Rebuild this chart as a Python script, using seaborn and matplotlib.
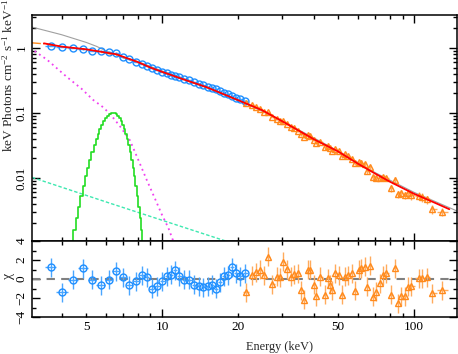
"""
Unfolded spectrum with model components and chi residuals.
"""

import numpy as np
import matplotlib
matplotlib.use("Agg")
import matplotlib.pyplot as plt
from matplotlib.ticker import FixedLocator, FuncFormatter, LogLocator, MultipleLocator, NullFormatter
import seaborn as sns

# ---- data ----
blue_energy = [3.62, 4.02, 4.45, 4.87, 5.29, 5.71, 6.16, 6.57, 7.00, 7.42, 7.88, 8.31,
               8.70, 9.10, 9.55, 10.03, 10.44, 10.86, 11.26, 11.68, 12.26, 12.83, 13.43,
               14.02, 14.58, 15.18, 15.75, 16.38, 16.99, 17.67, 18.33, 18.96, 19.61, 20.39, 21.35]
blue_flux = [1.085, 1.047, 1.01, 0.965, 0.91, 0.905, 0.877, 0.85, 0.72, 0.67, 0.616, 0.57,
             0.535, 0.49, 0.46, 0.43, 0.41, 0.39, 0.375, 0.358, 0.337, 0.318, 0.298,
             0.282, 0.268, 0.254, 0.243, 0.23, 0.217, 0.205, 0.193, 0.183, 0.172, 0.163, 0.155]
blue_chi = [1.26, -1.40, -0.07, 1.13, -0.07, -0.66, -0.07, 0.84, 0.18, -0.66, -0.24, 0.39,
            0.18, -1.02, -0.77, -0.24, 0.28, 0.45, 0.92, 0.28, -0.07, -0.07, -0.60,
            -0.77, -0.87, -0.77, -0.60, -1.02, -0.35, 0.28, 0.39, 1.26, 0.63, 0.28, 0.63]
blue_rel_err = 0.02

orange_energy = [21.6, 22.8, 23.6, 24.5, 25.5, 26.3, 27.4, 28.7, 29.4, 30.2, 31.4, 32.6,
                 33.4, 34.7, 35.7, 36.6, 38.0, 38.6, 40.1, 40.9, 42.5, 44.2, 45.6, 46.4,
                 47.4, 48.7, 50.2, 51.9, 53.1, 54.7, 56.8, 58.2, 60.3, 61.8, 63.7, 65.3,
                 66.7, 68.8, 70.9, 73.5, 75.5, 77.6, 81.3, 83.8, 86.4, 88.6, 91.9, 94.7,
                 97.0, 104.4, 107.6, 112.9, 117.9, 129.5]
orange_flux = [0.1435, 0.134, 0.1245, 0.115, 0.105, 0.1025, 0.0874, 0.0809, 0.0764, 0.075,
               0.0675, 0.0615, 0.059, 0.0532, 0.0467, 0.0428, 0.0452, 0.0436, 0.0382,
               0.0349, 0.0353, 0.0302, 0.0306, 0.0284, 0.0264, 0.0277, 0.0258, 0.0214,
               0.0231, 0.0216, 0.0198, 0.0167, 0.0173, 0.0171, 0.0162, 0.01265, 0.01466,
               0.01024, 0.01004, 0.0100, 0.01024, 0.00989, 0.0070, 0.00922, 0.0056,
               0.00586, 0.00546, 0.00578, 0.00545, 0.00532, 0.00503, 0.00466, 0.00332, 0.0030]
orange_chi = [-1.40, 0.42, 0.71, 0.95, 0.39, 2.35, -0.53, 0.25, 0.18, 1.82, 1.02, 0.25,
              0.50, 0.60, -1.16, -2.21, 0.95, 0.98, -0.63, -1.79, 0.25, -1.68, 0.07, -0.60,
              -1.16, 0.60, 0.42, -1.68, 0.25, 0.42, 0.60, -1.26, 0.95, 1.12, 1.30, -0.81,
              1.37, -1.86, -1.33, -0.46, 0.42, 0.60, -1.68, 1.12, -2.56, -1.79, -1.79,
              -0.81, -0.74, 0.07, 0.07, 0.18, -1.51, -1.16]
orange_rel_err = [0.025] * 10 + [0.04] * 13 + [0.06] * 10 + [0.09] * 9 + [0.12] * 6 + [0.15] * 6

# model curves
red_energy = [3.4, 4.0, 5.0, 6.0, 6.6, 7.1, 8.0, 9.0, 10.0, 12.0, 15.0, 20.0, 25.0, 30.0,
              40.0, 50.0, 60.0, 70.0, 80.0, 100.0, 120.0, 138.0]
red_flux = [1.18, 1.05, 0.955, 0.85, 0.80, 0.72, 0.61, 0.50, 0.43, 0.335, 0.25, 0.158,
            0.110, 0.0745, 0.0395, 0.0255, 0.0165, 0.0117, 0.0088, 0.0057, 0.0042, 0.0033]

gray_energy = [3.05, 4.0, 5.0, 5.5, 6.0, 7.0, 8.0, 10.0, 15.0, 20.0, 30.0, 50.0, 70.0, 100.0, 148.0]
gray_flux = [2.1, 1.6, 1.22, 1.06, 0.90, 0.73, 0.62, 0.445, 0.255, 0.16, 0.0752, 0.026,
             0.0121, 0.006, 0.0031]

orange_model_energy = [3.05, 3.4, 4.0, 5.0, 6.0, 6.6, 7.1, 8.0, 10.0, 15.0, 20.0, 21.5]
orange_model_flux = [1.2, 1.16, 1.04, 0.94, 0.83, 0.78, 0.70, 0.60, 0.425, 0.247, 0.156, 0.143]

green_energy = [4.4, 4.5, 4.6, 4.7, 4.8, 4.9, 5.0, 5.1, 5.2, 5.3, 5.4, 5.5, 5.6, 5.7, 5.8,
                5.9, 6.0, 6.1, 6.2, 6.3, 6.4, 6.5, 6.6, 6.7, 6.8, 6.9, 7.0, 7.1, 7.2, 7.3,
                7.4, 7.5, 7.6, 7.7, 7.8, 7.9, 8.0, 8.1, 8.2, 8.3, 8.4, 8.5, 8.6]
green_flux = [0.00101, 0.00159, 0.00243, 0.00363, 0.0053, 0.00756, 0.01054, 0.01437,
              0.01915, 0.02494, 0.03173, 0.03946, 0.04797, 0.05698, 0.06615, 0.07505,
              0.08322, 0.09019, 0.09551, 0.09886, 0.1, 0.09886, 0.09551, 0.09019, 0.08322,
              0.07505, 0.06615, 0.05698, 0.04797, 0.03946, 0.03173, 0.02494, 0.01915,
              0.01437, 0.01054, 0.00756, 0.0053, 0.00363, 0.00243, 0.00159, 0.00101,
              0.00062, 0.00038]

magenta_energy = [3.0, 3.5, 4.18, 4.8, 5.34, 5.8, 6.22, 6.8, 7.46, 8.1, 8.7, 9.4, 10.0, 10.6, 11.1]
magenta_flux = [1.0, 0.66, 0.362, 0.235, 0.158, 0.125, 0.097, 0.063, 0.038, 0.018, 0.0093,
                0.0047, 0.0027, 0.0017, 0.00105]

cyan_energy = [3.05, 6.22, 17.5, 20.0]
cyan_flux = [0.0102, 0.00408, 0.0011, 0.00093]

BLUE = "#1e8fff"
BLUE_ERR = "#4aa6ff"
ORANGE = "#ff8a1c"
ORANGE_ERR = "#ffab5c"


def bin_halfwidths(energy):
    """Half widths of the energy bins, edges half way (in log) between points."""
    e = np.asarray(energy)
    edges = np.sqrt(e[1:] * e[:-1])
    lo = np.concatenate([[e[0] ** 2 / edges[0]], edges])
    hi = np.concatenate([edges, [e[-1] ** 2 / edges[-1]]])
    return np.vstack([e - lo, hi - e])


sns.set_theme(style="ticks")
plt.rcParams.update({
    "font.family": ["Liberation Serif", "DejaVu Serif"],
    "mathtext.fontset": "custom",
    "mathtext.rm": "Liberation Serif",
    "mathtext.it": "Liberation Serif:italic",
    "font.size": 9.5,
    "axes.linewidth": 1.1,
    "axes.edgecolor": "black",
})

fig = plt.figure(figsize=(4.58, 3.54), dpi=100)
ax1 = fig.add_axes([32 / 458, 1 - 241 / 354, 425 / 458, 226 / 354])
ax2 = fig.add_axes([32 / 458, 1 - 317 / 354, 425 / 458, 76 / 354])

# ---- top panel: model components ----
sns.lineplot(x=gray_energy, y=gray_flux, ax=ax1, color="#a0a0a0", linewidth=0.8,
             estimator=None, sort=False)
sns.lineplot(x=cyan_energy, y=cyan_flux, ax=ax1, color="#3ee8b0", linewidth=1.0,
             linestyle=(0, (2.5, 1.5)), estimator=None, sort=False)
sns.lineplot(x=magenta_energy, y=magenta_flux, ax=ax1, color="#f040f0", linewidth=1.3,
             linestyle=(0, (1, 2)), estimator=None, sort=False)
sns.lineplot(x=green_energy, y=green_flux, ax=ax1, color="#22dd22", linewidth=1.2,
             drawstyle="steps-mid", estimator=None, sort=False)
sns.lineplot(x=orange_model_energy, y=orange_model_flux, ax=ax1, color=ORANGE, linewidth=1.0,
             linestyle="-.", estimator=None, sort=False)

# data
ax1.errorbar(blue_energy, blue_flux, xerr=bin_halfwidths(blue_energy),
             yerr=np.array(blue_flux) * blue_rel_err, fmt="o", ms=5, mfc="none",
             mec=BLUE, mew=1.0, ecolor=BLUE_ERR, elinewidth=1.0, zorder=3)
ax1.errorbar(orange_energy, orange_flux, xerr=bin_halfwidths(orange_energy),
             yerr=np.array(orange_flux) * np.array(orange_rel_err), fmt="^", ms=4.5,
             mfc="none", mec=ORANGE, mew=1.0, ecolor=ORANGE_ERR, elinewidth=1.0, zorder=3)

sns.lineplot(x=red_energy, y=red_flux, ax=ax1, color="#ff0000", linewidth=1.3,
             estimator=None, sort=False, zorder=4)

# ---- bottom panel: residuals ----
ax2.axhline(0, color="#808080", linewidth=1.5, linestyle=(0, (4, 3)), zorder=1)
ax2.errorbar(blue_energy, blue_chi, xerr=bin_halfwidths(blue_energy), yerr=1.0,
             fmt="o", ms=5, mfc="none", mec=BLUE, mew=1.0, ecolor=BLUE_ERR,
             elinewidth=1.0, zorder=3)
ax2.errorbar(orange_energy, orange_chi, xerr=bin_halfwidths(orange_energy), yerr=1.0,
             fmt="^", ms=4.5, mfc="none", mec=ORANGE, mew=1.0, ecolor=ORANGE_ERR,
             elinewidth=1.0, zorder=3)

# ---- axes ----
fmt_g = FuncFormatter(lambda v, p: f"{v:g}".replace("-", "\u2212"))
for ax in (ax1, ax2):
    ax.set_xscale("log")
    ax.set_xlim(3.05, 148)
    ax.xaxis.set_major_locator(FixedLocator([10, 100]))
    ax.xaxis.set_minor_locator(FixedLocator([4, 5, 6, 7, 8, 9, 20, 30, 40, 50, 60, 70, 80, 90]))
    ax.tick_params(which="both", direction="in", top=True, right=True, width=1.0,
                   colors="black", labelsize=9.5)
    ax.tick_params(which="major", length=6)
    ax.tick_params(which="minor", length=3)
    ax.set_xlabel("")
    ax.set_ylabel("")

ax1.set_yscale("log")
ax1.set_ylim(0.00107, 3.22)
ax1.yaxis.set_major_locator(LogLocator(base=10))
ax1.yaxis.set_minor_locator(LogLocator(base=10, subs=np.arange(2, 10)))
ax1.yaxis.set_major_formatter(fmt_g)
ax1.yaxis.set_minor_formatter(NullFormatter())
ax1.tick_params(labelbottom=False)

ax2.set_ylim(-4, 4)
ax2.yaxis.set_major_locator(FixedLocator([-4, -2, 0, 2, 4]))
ax2.yaxis.set_minor_locator(MultipleLocator(1))
ax2.yaxis.set_major_formatter(fmt_g)
ax2.xaxis.set_major_formatter(fmt_g)
ax2.xaxis.set_minor_formatter(FuncFormatter(lambda v, p: f"{v:g}" if v in (5, 20, 50) else ""))
ax2.tick_params(axis="x", which="both", pad=3)

for ax in (ax1, ax2):
    ax.tick_params(axis="y", labelrotation=90, pad=3)
    plt.setp(ax.get_yticklabels(), va="center")

fig.text(8 / 458, 1 - 152 / 354, r"keV Photons cm$^{-2}$ s$^{-1}$ keV$^{-1}$",
         rotation=90, ha="center", va="bottom", fontsize=9.5)
fig.text(8.5 / 458, 1 - 276 / 354, "\u03c7", rotation=90, ha="center", va="center",
         fontsize=10)
fig.text(280 / 458, 1 - 347 / 354, "Energy (keV)", ha="center", va="center", fontsize=8.8)

fig.savefig("out.png", dpi=100)
plt.close(fig)
